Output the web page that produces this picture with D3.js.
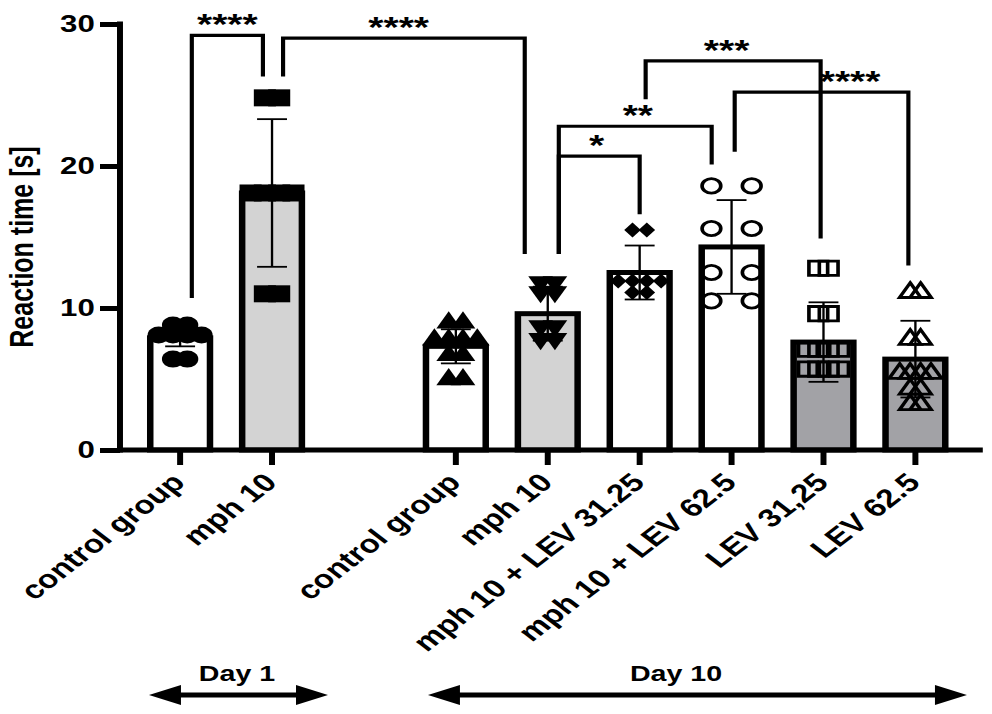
<!DOCTYPE html>
<html>
<head>
<meta charset="utf-8">
<script src="https://cdn.jsdelivr.net/npm/d3@7"></script>
<style>
  body { margin: 0; background: #fff; }
  svg { display: block; font-family: 'Liberation Sans', Arial, sans-serif; font-weight: bold; }
</style>
</head>
<body>
<svg id="chart" width="992" height="714"></svg>
<script>
// groups in drawing order (slot 'gap' is the empty space between the two days)
const slots = ['d1_ctrl', 'd1_mph', 'gap', 'd10_ctrl', 'd10_mph', 'd10_mph_lev31', 'd10_mph_lev62', 'd10_lev31', 'd10_lev62']
const groups = ['d1_ctrl', 'd1_mph', 'd10_ctrl', 'd10_mph', 'd10_mph_lev31', 'd10_mph_lev62', 'd10_lev31', 'd10_lev62']
const labels = ['control group', 'mph 10', 'control group', 'mph 10', 'mph 10 + LEV 31.25', 'mph 10 + LEV 62.5', 'LEV 31,25', 'LEV 62.5']

// mean and SD of reaction time [s]
const means = [7.9, 18.1, 7.3, 9.6, 12.5, 14.3, 7.6, 6.4]
const sds = [0.6, 5.2, 1.2, 1.9, 1.9, 3.3, 2.8, 2.7]

// individual animals
const points = [
  [8.8, 8.8, 8.1, 8.1, 8.1, 8.1, 6.4, 6.4],
  [24.8, 24.8, 18.1, 18.1, 18.1, 18.1, 11.0, 11.0],
  [9.1, 9.1, 7.9, 7.9, 7.9, 7.9, 6.8, 6.8, 5.1, 5.1],
  [11.7, 11.7, 11.0, 11.0, 8.6, 8.6, 7.7, 7.7],
  [15.5, 15.5, 11.9, 11.9, 11.9, 11.9, 11.1, 11.1],
  [18.6, 18.6, 15.6, 15.6, 12.5, 12.5, 10.5, 10.5],
  [12.8, 12.8, 9.6, 9.6, 7.1, 7.1, 7.1, 7.1, 5.7, 5.7, 5.7, 5.7],
  [11.2, 11.2, 7.9, 7.9, 5.5, 5.5, 5.5, 5.5, 4.4, 4.4, 3.3, 3.3]
]

// significance brackets
const bracketFrom = [0, 1, 3, 3, 4, 5]
const bracketTo = [1, 3, 4, 5, 6, 7]
const bracketLevel = [29.2, 29.0, 20.7, 22.8, 27.4, 25.2]
const bracketLeftEnd = [10.7, 26.3, 13.8, 13.8, 24.7, 21.0]
const bracketRightEnd = [26.3, 13.8, 16.6, 20.1, 14.9, 13.0]
const bracketLabels = ['****', '****', '*', '**', '***', '****']

const yTicks = [0, 10, 20, 30]
const days = ['Day 1', 'Day 10']

// styling
const fills = ['#fff', '#d3d3d3', '#fff', '#d3d3d3', '#fff', '#fff', '#a2a2a6', '#a2a2a6']
const markers = ['circle', 'square', 'triangle', 'triangleDown', 'diamond', 'circle', 'square', 'triangle']
const openMarker = [false, false, false, false, false, true, true, true]
const rowGap = [11, 11, 11, 11, 11, 31, 8, 8]
const legNudgeL = [9, 8.5, 8.5, 8.5, 4.6, 2.4]
const legNudgeR = [-7, -17.7, 0, -15.3, -2.2, -5.4]
const labelNudge = [0, -4, -2, 2, -5, 22]

// the original figure is stretched horizontally; draw in unstretched units
const SX = 1.3

function draw() {
  const svg = d3.select('#chart')
  svg.selectAll('*').remove()
  const g = svg.append('g').attr('transform', `scale(${SX},1)`)

  const x = d3.scaleBand()
    .domain(slots)
    .range([103.2, 739.5])
    .paddingInner(0.35)
    .paddingOuter(0.175)
  const y = d3.scaleLinear().domain([0, 30]).range([450, 24])
  const cx = i => x(groups[i]) + x.bandwidth() / 2
  const axisX0 = 92.3

  // bars
  g.selectAll('rect.bar')
    .data(groups)
    .join('rect')
    .attr('class', 'bar')
    .attr('x', d => x(d))
    .attr('width', x.bandwidth())
    .attr('y', (d, i) => y(means[i]))
    .attr('height', (d, i) => y(0) - y(means[i]))
    .attr('fill', (d, i) => fills[i])
    .attr('stroke', '#000')
    .attr('stroke-width', 5)

  // error bars
  const err = g.selectAll('g.err')
    .data(groups)
    .join('g')
    .attr('class', 'err')
    .attr('stroke', '#000')
    .attr('stroke-width', 1.8)
  err.append('line')
    .attr('x1', (d, i) => cx(i)).attr('x2', (d, i) => cx(i))
    .attr('y1', (d, i) => y(means[i] - sds[i]))
    .attr('y2', (d, i) => y(means[i] + sds[i]))
  err.selectAll('line.cap')
    .data((d, i) => [[i, means[i] - sds[i]], [i, means[i] + sds[i]]])
    .join('line')
    .attr('class', 'cap')
    .attr('x1', d => cx(d[0]) - 11.5).attr('x2', d => cx(d[0]) + 11.5)
    .attr('y1', d => y(d[1])).attr('y2', d => y(d[1]))

  // marker shapes, in unstretched units
  const shapes = {
    circle: r => d3.arc()({ innerRadius: 0, outerRadius: r, startAngle: 0, endAngle: 2 * Math.PI }),
    square: r => `M${-r},${-r}H${r}V${r}H${-r}Z`,
    triangle: r => `M0,${-r}L${r},${r * 0.8}L${-r},${r * 0.8}Z`,
    triangleDown: r => `M0,${r}L${r},${-r * 0.8}L${-r},${-r * 0.8}Z`,
    diamond: r => `M0,${-r}L${r * 0.85},0L0,${r}L${-r * 0.85},0Z`
  }
  const markerSize = { circle: 8.5, square: 8.5, triangle: 9.5, triangleDown: 9.5, diamond: 7.5 }

  // spread points with (almost) equal values side by side
  const layout = points.map((vals, gi) => {
    const sorted = vals.slice().sort((a, b) => b - a)
    const rows = []
    sorted.forEach(v => {
      const last = rows[rows.length - 1]
      if (last && Math.abs(last[0] - v) < 0.35) last.push(v)
      else rows.push([v])
    })
    const out = []
    rows.forEach(row => row.forEach((v, k) => {
      out.push({ g: gi, v, dx: (k - (row.length - 1) / 2) * rowGap[gi] })
    }))
    return out
  }).flat()

  g.selectAll('path.pt')
    .data(layout)
    .join('path')
    .attr('class', 'pt')
    .attr('transform', d => `translate(${cx(d.g) + d.dx},${y(d.v)})`)
    .attr('d', d => {
      const m = markers[d.g]
      const r = markerSize[m]
      return shapes[m](openMarker[d.g] ? r - 1.3 : r)
    })
    .attr('fill', d => openMarker[d.g] ? 'none' : '#000')
    .attr('stroke', '#000')
    .attr('stroke-width', d => openMarker[d.g] ? 2.8 : 0)

  // significance brackets
  const br = g.selectAll('g.bracket')
    .data(bracketLabels)
    .join('g')
    .attr('class', 'bracket')
  br.append('path')
    .attr('d', (d, i) => {
      const xl = cx(bracketFrom[i]) + legNudgeL[i]
      const xr = cx(bracketTo[i]) + legNudgeR[i]
      return `M${xl},${y(bracketLeftEnd[i])}V${y(bracketLevel[i])}H${xr}V${y(bracketRightEnd[i])}`
    })
    .attr('fill', 'none')
    .attr('stroke', '#000')
    .attr('stroke-width', 3.2)
  br.append('text')
    .attr('x', (d, i) => (cx(bracketFrom[i]) + legNudgeL[i] + cx(bracketTo[i]) + legNudgeR[i]) / 2 + labelNudge[i])
    .attr('y', (d, i) => y(bracketLevel[i]) - 1)
    .attr('text-anchor', 'middle')
    .style('font-size', '30px')
    .text(d => d)

  // y axis
  const yAxis = g.append('g')
    .attr('transform', `translate(${axisX0},0)`)
    .call(d3.axisLeft(y).tickValues(yTicks).tickSize(15.4).tickSizeOuter(0).tickPadding(4))
  yAxis.select('.domain').remove()
  yAxis.append('line')
    .attr('y1', y(0) + 2.5).attr('y2', y(30) - 2.5)
    .attr('stroke', '#000').attr('stroke-width', 4.6)
  yAxis.selectAll('.tick line').attr('stroke-width', 5)
  yAxis.selectAll('.tick text')
    .attr('fill', '#000')
    .style('font-size', '24px')
    .style('font-family', 'Liberation Sans, Arial, sans-serif')
    .style('font-weight', 'bold')

  g.append('text')
    .attr('transform', `translate(25,247) rotate(-90)`)
    .attr('text-anchor', 'middle')
    .style('font-size', '25px')
    .text('Reaction time [s]')

  // x axis
  const xAxis = g.append('g')
    .attr('transform', `translate(0,${y(0)})`)
    .call(d3.axisBottom(x)
      .tickValues(groups)
      .tickFormat(d => labels[groups.indexOf(d)])
      .tickSize(15)
      .tickSizeOuter(0))
  xAxis.select('.domain').remove()
  xAxis.append('line')
    .attr('x1', axisX0 - 2.3).attr('x2', 756)
    .attr('stroke', '#000').attr('stroke-width', 5)
  xAxis.selectAll('.tick line').attr('stroke-width', 4.6)
  xAxis.selectAll('.tick text')
    .attr('x', 0).attr('y', 0).attr('dy', 0)
    .attr('transform', 'translate(5,34) rotate(-45)')
    .attr('text-anchor', 'end')
    .attr('fill', '#000')
    .style('font-size', '25.5px')
    .style('font-family', 'Liberation Sans, Arial, sans-serif')
    .style('font-weight', 'bold')

  // day arrows
  const dayFrom = [114.6, 329.2]
  const dayTo = [252.3, 743.8]
  const dayMid = [182.3, 520]
  const arrowY = 695
  const head = 24.6
  const day = g.selectAll('g.day')
    .data(days)
    .join('g')
    .attr('class', 'day')
  day.append('line')
    .attr('x1', (d, i) => dayFrom[i] + head - 2)
    .attr('x2', (d, i) => dayTo[i] - head + 2)
    .attr('y1', arrowY).attr('y2', arrowY)
    .attr('stroke', '#000').attr('stroke-width', 5)
  day.append('path')
    .attr('d', (d, i) => `M${dayFrom[i]},${arrowY}L${dayFrom[i] + head},${arrowY - 10}V${arrowY + 10}Z` +
      `M${dayTo[i]},${arrowY}L${dayTo[i] - head},${arrowY - 10}V${arrowY + 10}Z`)
    .attr('fill', '#000')
  day.append('text')
    .attr('x', (d, i) => dayMid[i])
    .attr('y', 681)
    .attr('text-anchor', 'middle')
    .style('font-size', '22px')
    .text(d => d)
}

document.addEventListener('DOMContentLoaded', draw, false)
</script>
</body>
</html>
